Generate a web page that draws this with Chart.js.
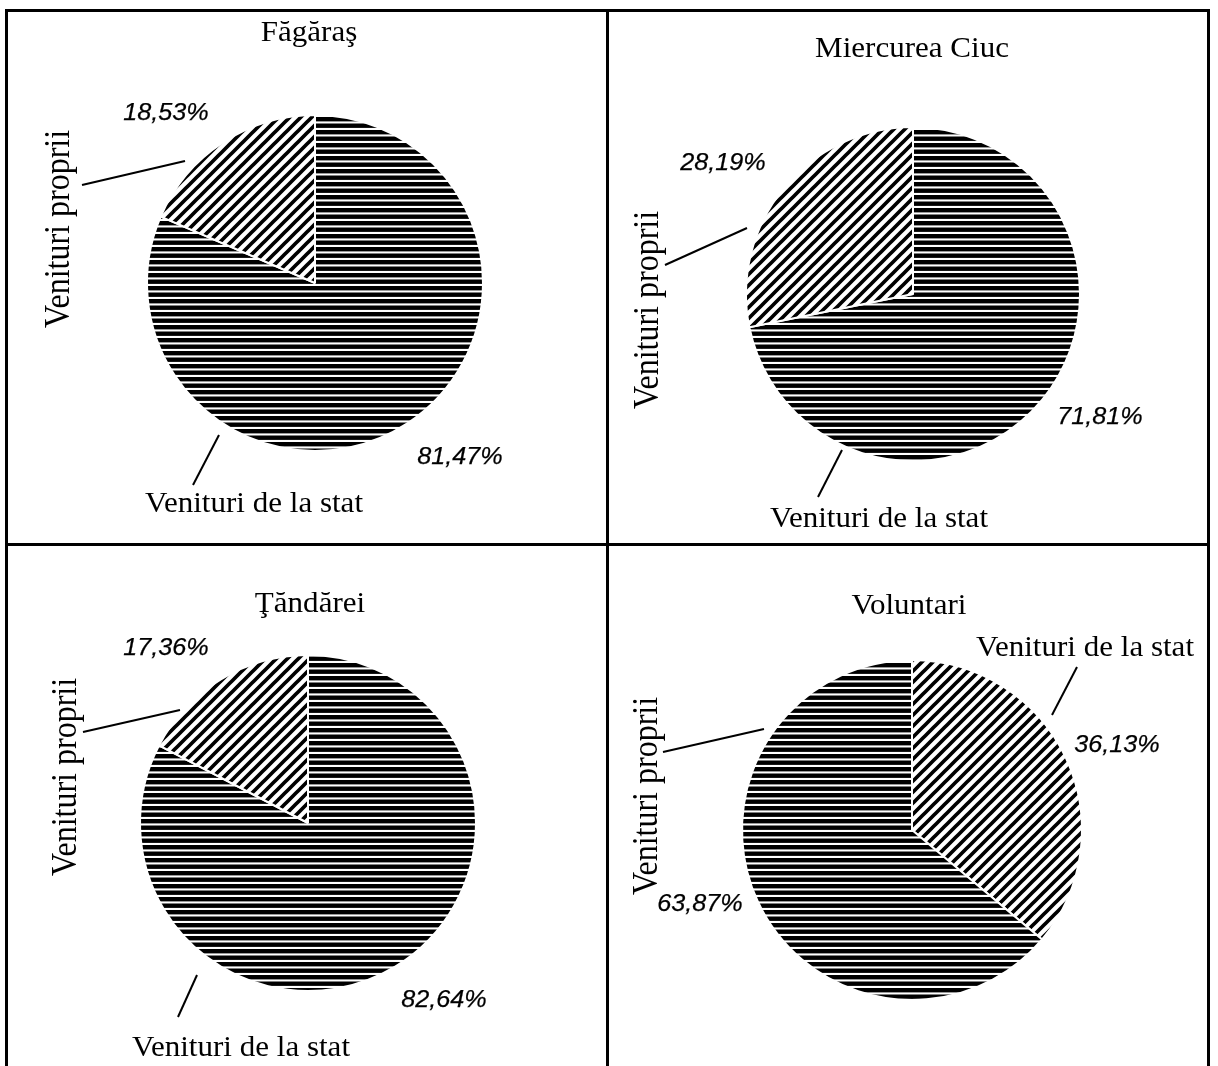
<!DOCTYPE html>
<html>
<head>
<meta charset="utf-8">
<script src="https://cdn.jsdelivr.net/npm/chart.js@4/dist/chart.umd.min.js"></script>
<style>
  html, body { margin: 0; padding: 0; background: #fff; }
  #page { position: relative; width: 1218px; height: 1066px; overflow: hidden; background: #fff; }
  #page canvas { position: absolute; left: 0; top: 0; }
  .rule { position: absolute; background: #000; }
</style>
</head>
<body>
<div id="page">
  <div class="rule" style="left:5px; top:9px; width:1205px; height:3px;"></div>
  <div class="rule" style="left:5px; top:9px; width:3px; height:1070px;"></div>
  <div class="rule" style="left:1207px; top:9px; width:3px; height:1070px;"></div>
  <div class="rule" style="left:606px; top:9px; width:3px; height:1070px;"></div>
  <div class="rule" style="left:5px; top:543px; width:1205px; height:3px;"></div>
</div>
<script>
// Revenue structure of four towns: state transfers vs. own revenues (%)
const cities = ['Făgăraş', 'Miercurea Ciuc', 'Ţăndărei', 'Voluntari'];
const revenueLabels = ['Venituri de la stat', 'Venituri proprii'];
const fagarasValues = [81.47, 18.53];
const miercureaCiucValues = [71.81, 28.19];
const tandareiValues = [82.64, 17.36];
const voluntariValues = [36.13, 63.87];
const cityValues = [fagarasValues, miercureaCiucValues, tandareiValues, voluntariValues];

const W = 1218, H = 1066;
const SERIF = '"Liberation Serif", "Times New Roman", serif';
const SANS = '"Liberation Sans", Arial, sans-serif';

// Placement of each panel: pie centre/radius, title, and label anchors
const panels = [
  { cx: 315, cy: 283, r: 168, title: [309, 41],
    slices: [
      { pct: [460, 457], name: [254, 512], vertical: false, lead: [[193, 485], [219, 435]] },
      { pct: [166, 113], name: [59, 229], vertical: true, lead: [[82, 185], [185, 161]] }
    ] },
  { cx: 913, cy: 294, r: 167, title: [912, 57],
    slices: [
      { pct: [1100, 417], name: [879, 527], vertical: false, lead: [[818, 497], [842, 450]] },
      { pct: [723, 163], name: [648, 310], vertical: true, lead: [[665, 265], [747, 228]] }
    ] },
  { cx: 308, cy: 823, r: 168, title: [310, 612],
    slices: [
      { pct: [444, 1000], name: [241, 1056], vertical: false, lead: [[178, 1017], [197, 975]] },
      { pct: [166, 648], name: [66, 777], vertical: true, lead: [[83, 732], [180, 710]] }
    ] },
  { cx: 912, cy: 830, r: 170, title: [909, 614],
    slices: [
      { pct: [1117, 745], name: [1085, 656], vertical: false, lead: [[1077, 667], [1052, 715]] },
      { pct: [700, 904], name: [647, 796], vertical: true, lead: [[663, 752], [764, 729]] }
    ] }
];

// Hatch fills
function horizontalHatch() {
  const c = document.createElement('canvas');
  c.width = 8; c.height = 13;
  const g = c.getContext('2d');
  g.fillStyle = '#fff'; g.fillRect(0, 0, 8, 13);
  g.fillStyle = '#000';
  g.fillRect(0, 0, 8, 4.4);
  g.fillRect(0, 6.5, 8, 4.4);
  return g.createPattern(c, 'repeat');
}
function diagonalHatch() {
  const s = 11;
  const c = document.createElement('canvas');
  c.width = s; c.height = s;
  const g = c.getContext('2d');
  g.fillStyle = '#fff'; g.fillRect(0, 0, s, s);
  g.strokeStyle = '#000';
  g.lineWidth = 3.7;
  g.lineCap = 'square';
  g.beginPath();
  g.moveTo(-1, s + 1); g.lineTo(s + 1, -1);
  g.moveTo(-s / 2 - 1, s / 2 + 1); g.lineTo(s / 2 + 1, -s / 2 - 1);
  g.moveTo(s / 2 - 1, s * 1.5 + 1); g.lineTo(s * 1.5 + 1, s / 2 - 1);
  g.stroke();
  return g.createPattern(c, 'repeat');
}

function fmtPct(v) {
  return v.toFixed(2).replace('.', ',') + '%';
}

function drawText(ctx, str, x, y, font, opts) {
  ctx.save();
  ctx.translate(x, y);
  if (opts.rot) ctx.rotate(opts.rot);
  ctx.scale(opts.sx || 1, opts.sy || 1);
  ctx.font = font;
  ctx.fillStyle = '#000';
  ctx.textAlign = 'center';
  ctx.textBaseline = opts.baseline || 'alphabetic';
  ctx.fillText(str, 0, 0);
  if (opts.weight) {
    ctx.strokeStyle = '#000';
    ctx.lineWidth = opts.weight;
    ctx.strokeText(str, 0, 0);
  }
  ctx.restore();
}

const annotate = {
  id: 'annotate',
  afterDatasetsDraw(chart, args, o) {
    const ctx = chart.ctx;
    const p = o.panel;
    const values = chart.data.datasets[0].data;
    drawText(ctx, o.title, p.title[0], p.title[1], '29px ' + SERIF, { sx: 1.07 });
    p.slices.forEach((s, i) => {
      ctx.save();
      ctx.strokeStyle = '#000';
      ctx.lineWidth = 2;
      ctx.beginPath();
      ctx.moveTo(s.lead[0][0], s.lead[0][1]);
      ctx.lineTo(s.lead[1][0], s.lead[1][1]);
      ctx.stroke();
      ctx.restore();
      drawText(ctx, fmtPct(values[i]), s.pct[0], s.pct[1], 'italic 24px ' + SANS,
        { sx: 1.05, baseline: 'middle', weight: 0.25 });
      if (s.vertical) {
        drawText(ctx, chart.data.labels[i], s.name[0], s.name[1], '32px ' + SERIF,
          { rot: -Math.PI / 2, sy: 1.14, baseline: 'middle' });
      } else {
        drawText(ctx, chart.data.labels[i], s.name[0], s.name[1], '29px ' + SERIF, { sx: 1.07 });
      }
    });
  }
};

const page = document.getElementById('page');
const hHatch = horizontalHatch();
const dHatch = diagonalHatch();

cities.forEach((city, k) => {
  const p = panels[k];
  const values = cityValues[k];
  const big = Math.max(...values);
  const canvas = document.createElement('canvas');
  canvas.width = W; canvas.height = H;
  canvas.style.width = W + 'px'; canvas.style.height = H + 'px';
  page.appendChild(canvas);
  const R = p.r + 1;
  new Chart(canvas, {
    type: 'pie',
    data: {
      labels: revenueLabels,
      datasets: [{
        data: values,
        backgroundColor: values.map(v => v === big ? hHatch : dHatch),
        borderColor: '#fff',
        borderWidth: 2,
        hoverOffset: 0,
        offset: 0
      }]
    },
    options: {
      responsive: false,
      animation: false,
      events: [],
      layout: { padding: { left: p.cx - R, right: W - p.cx - R, top: p.cy - R, bottom: H - p.cy - R } },
      plugins: {
        legend: { display: false },
        tooltip: { enabled: false },
        title: { display: false },
        annotate: { panel: p, title: city }
      }
    },
    plugins: [annotate]
  });
});
</script>
</body>
</html>
